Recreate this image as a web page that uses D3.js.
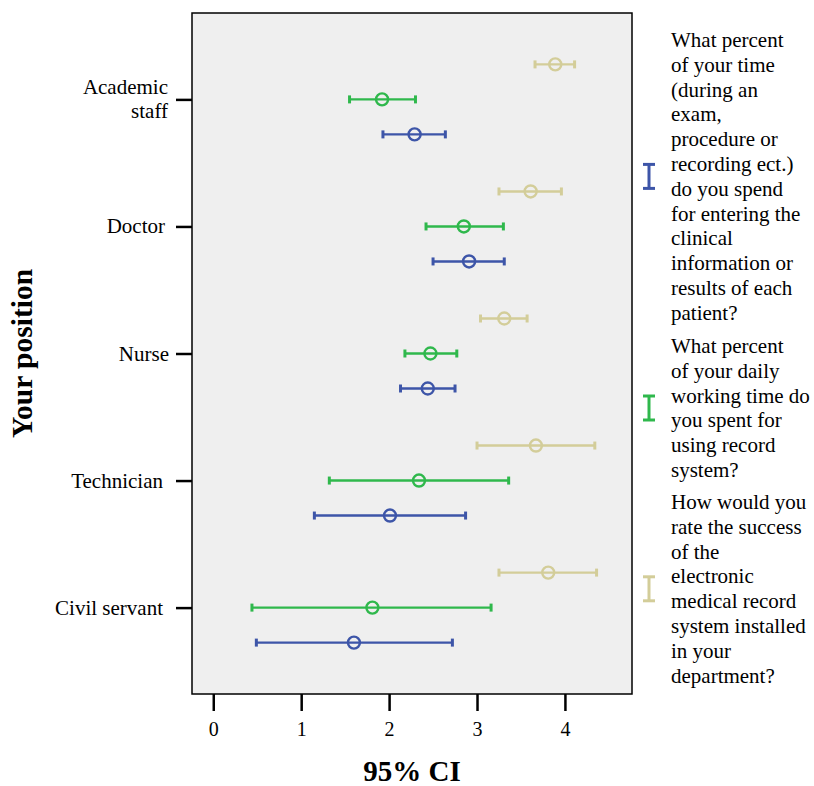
<!DOCTYPE html>
<html>
<head>
<meta charset="utf-8">
<script src="https://cdn.jsdelivr.net/npm/d3@7"></script>
<style>
  body { margin: 0; background: #fff; }
  svg text { font-family: "Liberation Serif", "Times New Roman", serif; fill: #000; }
</style>
</head>
<body>
<div id="chart"></div>
<script>
// categories on the y axis
const positions = ["Academic staff", "Doctor", "Nurse", "Technician", "Civil servant"];

// series: [low, mean, high] per position
const timePerPatient = [[1.93, 2.29, 2.64], [2.50, 2.91, 3.31], [2.13, 2.44, 2.75], [1.15, 2.01, 2.87], [0.49, 1.60, 2.72]];
const dailyTime = [[1.55, 1.92, 2.30], [2.42, 2.85, 3.30], [2.18, 2.47, 2.77], [1.32, 2.34, 3.36], [0.44, 1.81, 3.16]];
const successRate = [[3.66, 3.89, 4.11], [3.25, 3.61, 3.96], [3.04, 3.31, 3.57], [3.00, 3.67, 4.34], [3.25, 3.81, 4.36]];

const xTicks = [0, 1, 2, 3, 4];

const legendLines = [
  ["What percent", "of your time", "(during an", "exam,", "procedure or", "recording ect.)", "do you spend", "for entering the", "clinical", "information or", "results of each", "patient?"],
  ["What percent", "of your daily", "working time do", "you spent for", "using record", "system?"],
  ["How would you", "rate the success", "of the", "electronic", "medical record", "system installed", "in your", "department?"]
];

const series = [
  { values: timePerPatient, color: "#3d55a8", offset: 35 },
  { values: dailyTime, color: "#2fb84c", offset: 0 },
  { values: successRate, color: "#d3cd99", offset: -35 }
];

const width = 814, height = 786;
const plot = { left: 192, right: 632, top: 13, bottom: 694 };

const svg = d3.select("#chart").append("svg")
  .attr("width", width)
  .attr("height", height);

const x = d3.scaleLinear()
  .domain([-0.242, 4.763])
  .range([plot.left, plot.right]);

const y = d3.scalePoint()
  .domain(positions)
  .range([plot.top, plot.bottom])
  .padding(0.68);

// plot background
svg.append("rect")
  .attr("x", plot.left)
  .attr("y", plot.top)
  .attr("width", plot.right - plot.left)
  .attr("height", plot.bottom - plot.top)
  .attr("fill", "#efefef")
  .attr("stroke", "#000")
  .attr("stroke-width", 1.5);

// x axis
const xAxis = svg.append("g")
  .attr("transform", `translate(0, ${plot.bottom})`)
  .call(d3.axisBottom(x).tickValues(xTicks).tickSize(17).tickPadding(11).tickFormat(d3.format("d")));
xAxis.select(".domain").remove();
xAxis.selectAll(".tick line").attr("stroke", "#000").attr("stroke-width", 2.5);
xAxis.selectAll(".tick text")
  .attr("font-size", 20)
  .attr("font-family", "Liberation Serif, serif");

// y axis
const yAxis = svg.append("g")
  .attr("transform", `translate(${plot.left}, 0)`)
  .call(d3.axisLeft(y).tickSize(16).tickPadding(11).tickFormat(""));
yAxis.select(".domain").remove();
yAxis.selectAll(".tick line").attr("stroke", "#000").attr("stroke-width", 2.5);

// y labels (Academic staff on two lines)
svg.append("g")
  .selectAll("text")
  .data(positions)
  .join("text")
  .attr("text-anchor", "end")
  .attr("font-size", 21)
  .each(function (d) {
    const t = d3.select(this);
    if (d === "Academic staff") {
      t.append("tspan").attr("x", 168).attr("y", y(d) - 5).text("Academic");
      t.append("tspan").attr("x", 168).attr("y", y(d) + 19).text("staff");
    } else {
      const right = d === "Nurse" ? 169 : d === "Doctor" ? 165 : 163;
      t.attr("x", right).attr("y", y(d) + 7).text(d);
    }
  });

// axis titles
svg.append("text")
  .attr("x", (plot.left + plot.right) / 2)
  .attr("y", 781)
  .attr("text-anchor", "middle")
  .attr("font-size", 29)
  .attr("font-weight", "bold")
  .text("95% CI");

svg.append("text")
  .attr("transform", `translate(32, ${(plot.top + plot.bottom) / 2}) rotate(-90)`)
  .attr("text-anchor", "middle")
  .attr("font-size", 29.5)
  .attr("font-weight", "bold")
  .text("Your position");

// error bars
const capH = 4;
series.forEach((s) => {
  const g = svg.append("g")
    .attr("stroke", s.color)
    .attr("fill", "none");
  const rows = s.values.map((v, i) => ({ pos: positions[i], lo: v[0], mean: v[1], hi: v[2] }));

  g.selectAll(".bar")
    .data(rows)
    .join("line")
    .attr("x1", (d) => x(d.lo))
    .attr("x2", (d) => x(d.hi))
    .attr("y1", (d) => y(d.pos) + s.offset)
    .attr("y2", (d) => y(d.pos) + s.offset)
    .attr("stroke-width", 2.4);

  g.selectAll(".capl")
    .data(rows)
    .join("line")
    .attr("x1", (d) => x(d.lo))
    .attr("x2", (d) => x(d.lo))
    .attr("y1", (d) => y(d.pos) + s.offset - capH)
    .attr("y2", (d) => y(d.pos) + s.offset + capH)
    .attr("stroke-width", 3);

  g.selectAll(".caph")
    .data(rows)
    .join("line")
    .attr("x1", (d) => x(d.hi))
    .attr("x2", (d) => x(d.hi))
    .attr("y1", (d) => y(d.pos) + s.offset - capH)
    .attr("y2", (d) => y(d.pos) + s.offset + capH)
    .attr("stroke-width", 3);

  g.selectAll("circle")
    .data(rows)
    .join("circle")
    .attr("cx", (d) => x(d.mean))
    .attr("cy", (d) => y(d.pos) + s.offset)
    .attr("r", 6)
    .attr("stroke-width", 2.4);
});

// legend
const legendStarts = [47, 353, 509];
const lineH = 24.8;
legendLines.forEach((lines, i) => {
  const top = legendStarts[i];
  const g = svg.append("g");
  g.selectAll("text")
    .data(lines)
    .join("text")
    .attr("x", 671)
    .attr("y", (_, j) => top + j * lineH)
    .attr("font-size", 21)
    .text((d) => d);

  const cy = top - 6 + (lines.length - 1) * lineH / 2 - 1;
  const col = series[i].color;
  const icon = g.append("g").attr("stroke", col).attr("stroke-width", 3);
  icon.append("line").attr("x1", 649).attr("x2", 649).attr("y1", cy - 12).attr("y2", cy + 12);
  icon.append("line").attr("x1", 643).attr("x2", 655).attr("y1", cy - 12).attr("y2", cy - 12);
  icon.append("line").attr("x1", 643).attr("x2", 655).attr("y1", cy + 12).attr("y2", cy + 12);
});
</script>
</body>
</html>
